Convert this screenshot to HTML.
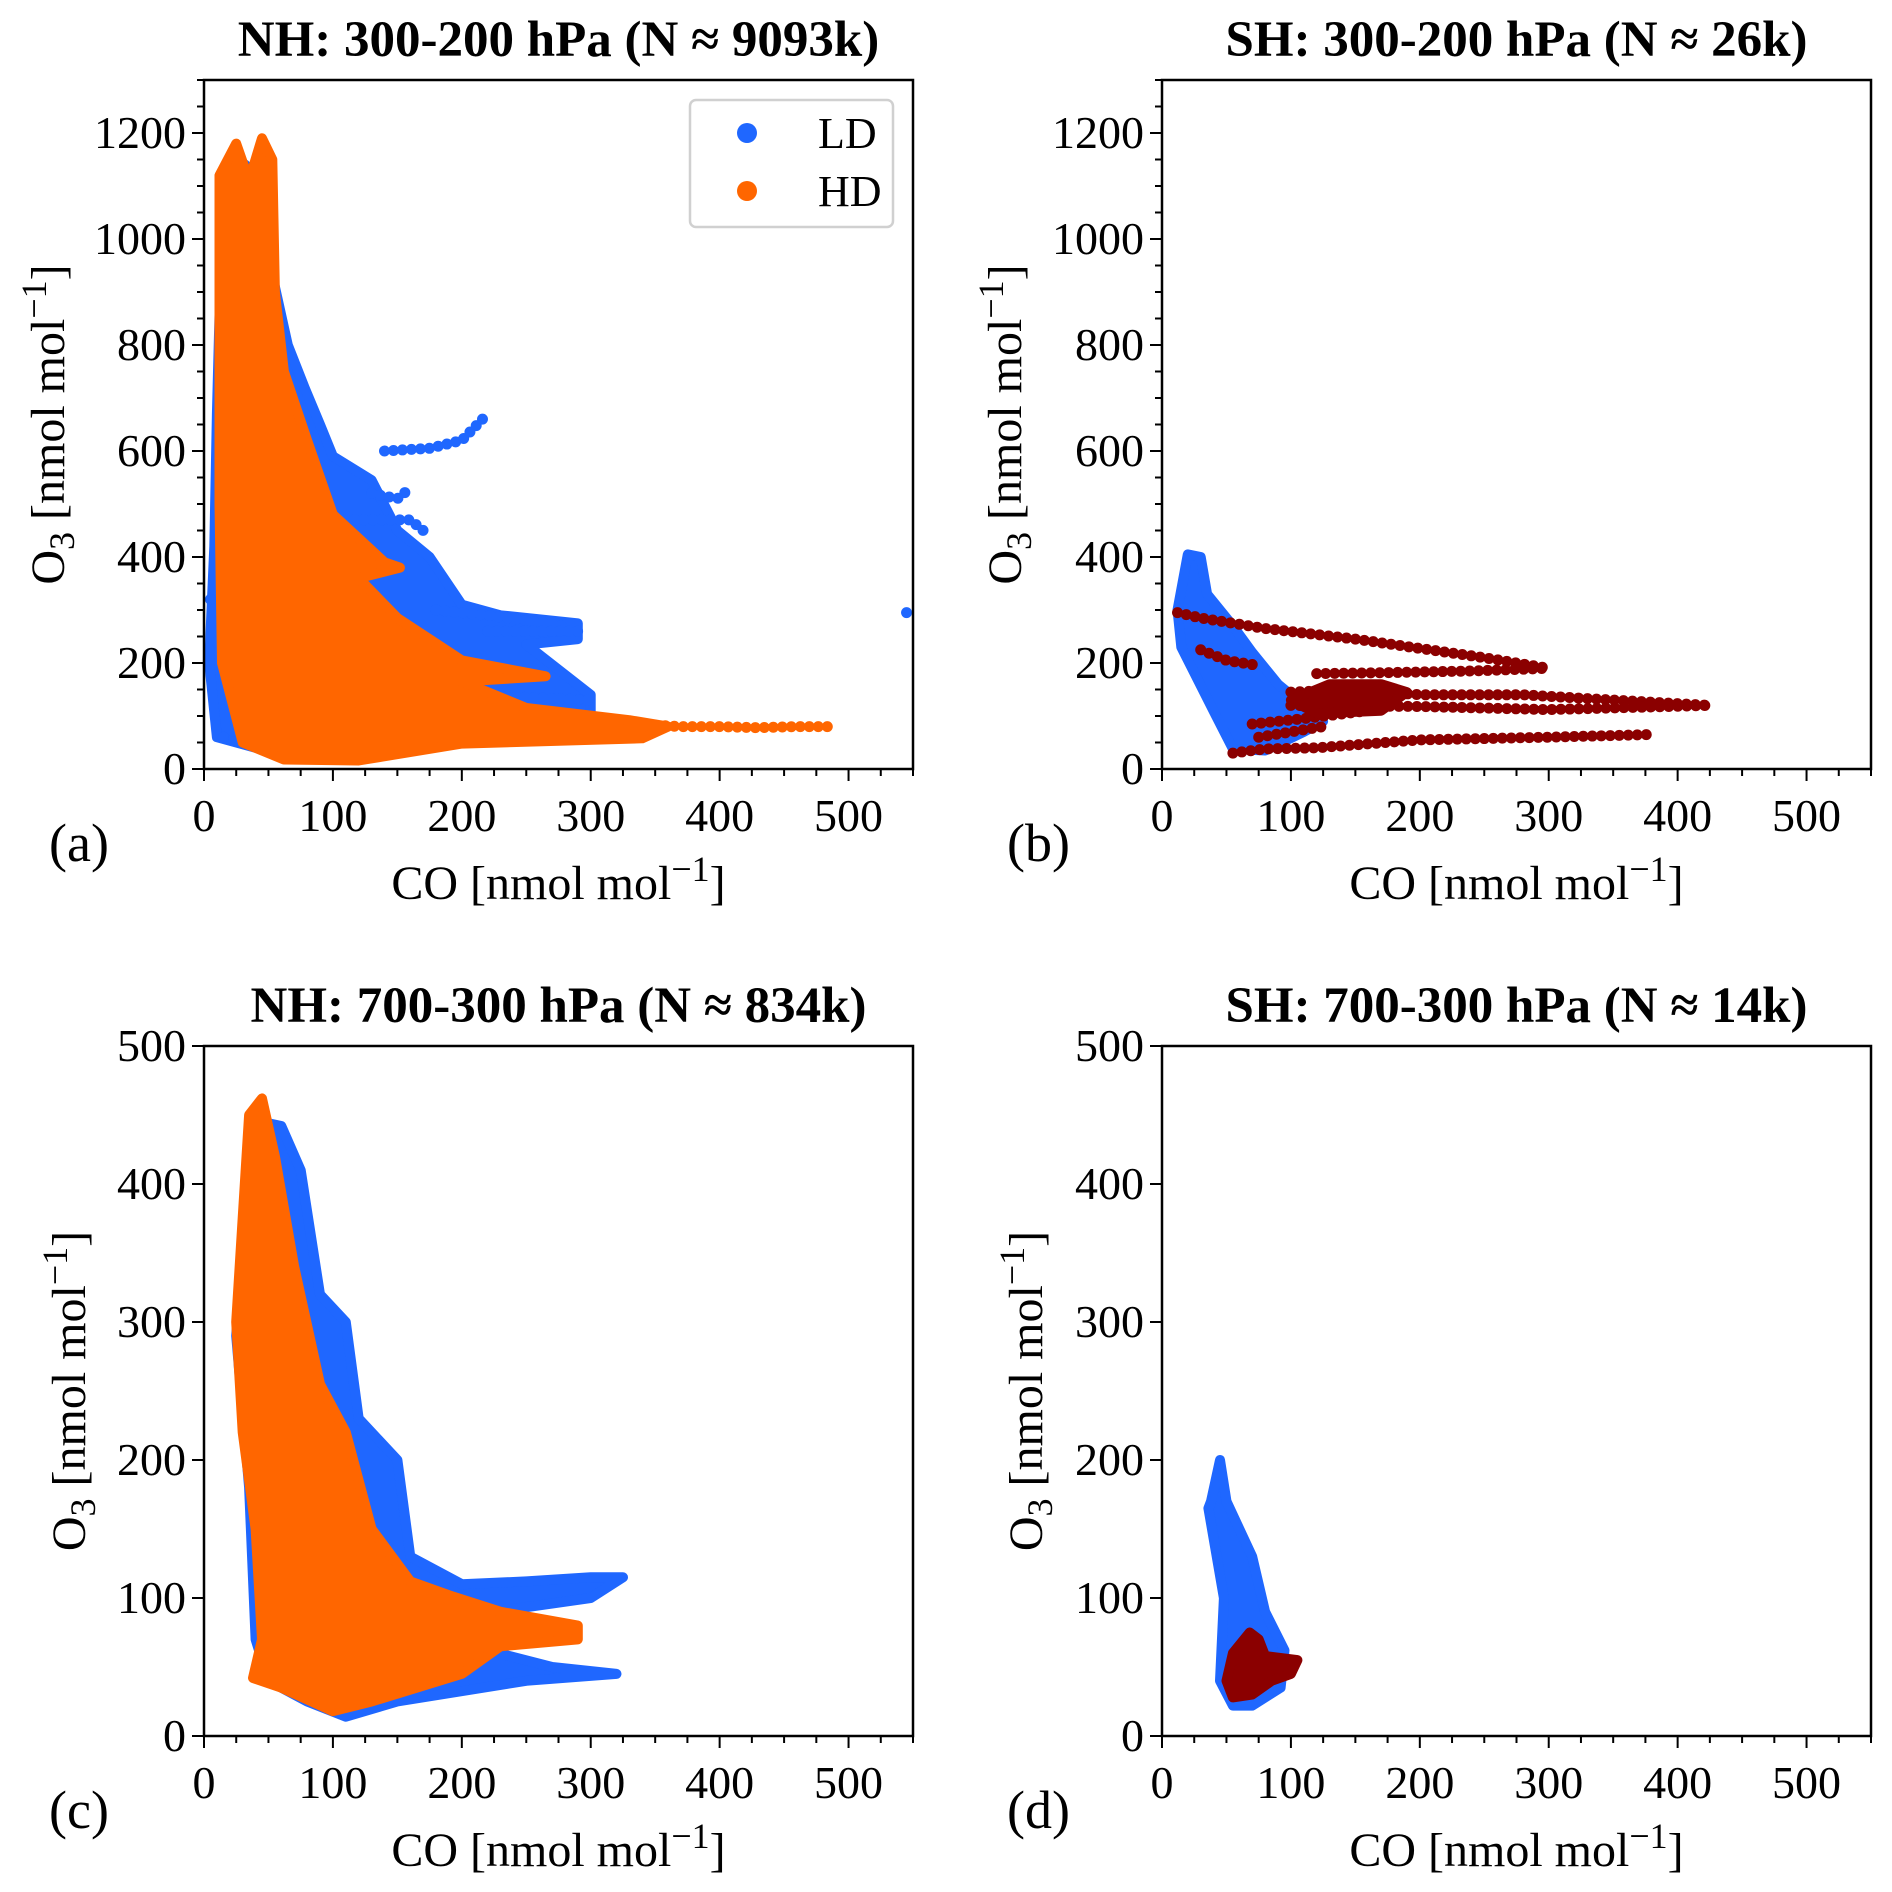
<!DOCTYPE html>
<html><head><meta charset="utf-8"><style>
html,body{margin:0;padding:0;background:#fff}
svg{display:block}
text{font-family:"Liberation Serif",serif;fill:#000}
</style></head><body>
<svg id="fig" width="1892" height="1892" viewBox="0 0 1892 1892" xmlns="http://www.w3.org/2000/svg"></svg>
<script>
// ---- data (CO, O3 in nmol/mol) ----
const xTicks = [0,100,200,300,400,500];
const yTicksTop = [0,200,400,600,800,1000,1200];
const yTicksBot = [0,100,200,300,400,500];
// Panel a cloud envelopes
const aLD = [[15,1130],[32,1140],[45,1000],[55,910],[65,800],[78,720],[90,650],[100,590],[130,545],[150,450],[175,400],[200,310],[230,290],[290,275],[290,245],[250,235],[300,140],[300,100],[330,62],[200,50],[110,18],[70,22],[40,40],[10,60],[4,200],[8,420],[10,670]];
const aHD = [[12,1120],[25,1180],[35,1110],[45,1190],[53,1150],[55,900],[62,750],[80,620],[100,480],[140,390],[152,380],[120,360],[150,285],[200,205],[265,175],[200,165],[250,115],[330,92],[360,80],[340,58],[200,48],[120,16],[62,18],[30,50],[14,200],[12,500],[12,900]];
const aLDstreaks = [[[140,600],[175,605],[200,620],[220,670]],[[130,520],[150,510],[160,530]],[[110,470],[160,470],[175,440]],[[180,300],[220,290],[280,270]],[[220,260],[290,260]],[[200,140],[300,130]]];
const aHDtail = [[330,85],[370,80],[400,80],[430,78],[460,80],[490,80]];
const aLDout = [[545,295],[5,320],[10,240],[20,125],[15,60]];
// Panel b
const bLD = [[12,300],[20,405],[30,400],[35,330],[55,270],[70,220],[90,160],[110,120],[125,90],[110,70],[80,35],[55,38],[42,100],[15,230]];
const bHDstreaks = [
 [[12,295],[30,285],[80,265],[150,245],[250,210],[300,190]],
 [[30,225],[50,205],[75,195]],
 [[120,180],[180,182],[240,185],[300,190]],
 [[100,145],[150,150],[200,140],[280,140],[350,130],[425,120]],
 [[100,120],[200,118],[300,112],[425,120]],
 [[70,85],[110,95],[160,110]],
 [[55,30],[80,38],[120,40],[200,55],[300,60],[380,65]],
 [[75,60],[100,70],[130,82]]];
const bHDblob = [[100,130],[130,160],[170,160],[190,145],[170,110],[120,105]];
// Panel c
const cLD = [[25,290],[35,420],[45,445],[60,442],[75,410],[90,320],[110,300],[120,230],[150,200],[160,130],[200,110],[250,112],[300,115],[325,115],[300,100],[240,92],[220,62],[270,50],[320,45],[250,40],[150,25],[110,14],[80,25],[50,40],[40,70],[35,180]];
const cHD = [[25,300],[35,450],[45,462],[55,420],[70,340],[90,255],[110,220],[130,150],[160,112],[190,102],[230,90],[290,80],[290,70],[230,65],[200,45],[130,25],[100,18],[60,35],[38,42],[45,70],[40,150],[30,220]];
// Panel d
const dLD = [[38,170],[45,200],[50,170],[70,130],[80,90],[95,62],[92,35],[70,22],[55,22],[45,40],[48,100],[36,165]];
const dHD = [[50,40],[55,60],[68,75],[75,70],[80,58],[105,55],[100,45],[85,40],[70,30],[55,28]];

const BLUE="#1f67ff", ORANGE="#ff6600", DRED="#8b0000";
const NS="http://www.w3.org/2000/svg";
const svg=document.getElementById('fig');
function mk(tag,attrs,parent){const e=document.createElementNS(NS,tag);for(const k in attrs)e.setAttribute(k,attrs[k]);(parent||svg).appendChild(e);return e;}

const panels=[
 {id:'a',L:204,T:80,W:709,H:689,ymax:1300,yt:yTicksTop,ymin:50,title:'NH: 300-200 hPa (N \u2248 9093k)',ylx:48},
 {id:'b',L:1162,T:80,W:709,H:689,ymax:1300,yt:yTicksTop,ymin:50,title:'SH: 300-200 hPa (N \u2248 26k)',ylx:1005},
 {id:'c',L:204,T:1046,W:709,H:690,ymax:500,yt:yTicksBot,ymin:0,title:'NH: 700-300 hPa (N \u2248 834k)',ylx:69},
 {id:'d',L:1162,T:1046,W:709,H:690,ymax:500,yt:yTicksBot,ymin:0,title:'SH: 700-300 hPa (N \u2248 14k)',ylx:1026}];

panels.forEach(p=>{
 p.x=v=>p.L+v/550*p.W; p.y=v=>p.T+p.H-v/p.ymax*p.H;
 const g=mk('g',{});
 
 
 p.g=g;
});
function poly(p,pts,color,name){const e=mk('polygon',{points:pts.map(q=>p.x(q[0]).toFixed(1)+','+p.y(q[1]).toFixed(1)).join(' '),fill:color,stroke:color,'stroke-width':10,'stroke-linejoin':'round'},p.g);
 
 }
function line(p,pts,color,name){const e=mk('polyline',{points:pts.map(q=>p.x(q[0]).toFixed(1)+','+p.y(q[1]).toFixed(1)).join(' '),fill:'none',stroke:color,'stroke-width':11,'stroke-linecap':'round','stroke-linejoin':'round','stroke-dasharray':'0 9'},p.g);
 
 }
function dots(p,pts,color,name){pts.forEach(q=>{const e=mk('circle',{cx:p.x(q[0]),cy:p.y(q[1]),r:5.5,fill:color},p.g);
 
 });}

const [A,B,C,D]=panels;
poly(A,aLD,BLUE,'ld-cloud');
aLDstreaks.forEach(s=>line(A,s,BLUE,'ld-streak'));
dots(A,aLDout,BLUE,'ld-point');
poly(A,aHD,ORANGE,'hd-cloud');
line(A,aHDtail,ORANGE,'hd-tail');
poly(B,bLD,BLUE,'ld-cloud');
bHDstreaks.forEach(s=>line(B,s,DRED,'hd-streak'));
poly(B,bHDblob,DRED,'hd-cloud');
poly(C,cLD,BLUE,'ld-cloud');
poly(C,cHD,ORANGE,'hd-cloud');
poly(D,dLD,BLUE,'ld-cloud');
poly(D,dHD,DRED,'hd-cloud');

panels.forEach(p=>{
 const g=p.g;
 const fr=mk('rect',{x:p.L,y:p.T,width:p.W,height:p.H,fill:'none',stroke:'#000','stroke-width':2.5},g);
 
 
 for(let v=0;v<=550;v+=25){const X=p.x(v);const maj=v%100===0;mk('line',{x1:X,x2:X,y1:p.T+p.H,y2:p.T+p.H+(maj?12:7),stroke:'#000','stroke-width':2},g);}
 xTicks.forEach(v=>{const t=mk('text',{x:p.x(v),y:p.T+p.H+62,'font-size':46,'text-anchor':'middle'},g);t.textContent=v;
  
  });
 if(p.ymin){for(let v=0;v<=p.ymax;v+=p.ymin){const Y=p.y(v);mk('line',{x1:p.L,x2:p.L-((v%200===0)?12:7),y1:Y,y2:Y,stroke:'#000','stroke-width':2},g);}}
 else{p.yt.forEach(v=>{const Y=p.y(v);mk('line',{x1:p.L,x2:p.L-12,y1:Y,y2:Y,stroke:'#000','stroke-width':2},g);});}
 p.yt.forEach(v=>{const t=mk('text',{x:p.L-18,y:p.y(v)+15,'font-size':46,'text-anchor':'end'},g);t.textContent=v;
  
  });
 const ti=mk('text',{x:p.L+p.W/2,y:p.T-24,'font-size':51,'font-weight':'bold','text-anchor':'middle'},g);ti.textContent=p.title;
 
 
 const xl=mk('text',{x:p.L+p.W/2,y:p.T+p.H+130,'font-size':48,'text-anchor':'middle'},g);
 xl.innerHTML='CO [nmol mol<tspan dy="-18" font-size="36">\u22121</tspan><tspan dy="18">]</tspan>';
 
 
 const cy=p.T+p.H/2;
 const yl=mk('text',{x:0,y:0,'font-size':48,'text-anchor':'middle',transform:`translate(${p.ylx+16},${cy}) rotate(-90)`},g);
 yl.innerHTML='O<tspan dy="10" font-size="36">3</tspan><tspan dy="-10"> [nmol mol</tspan><tspan dy="-18" font-size="36">\u22121</tspan><tspan dy="18">]</tspan>';
 
 
 const pl=mk('text',{x:p.L-155,y:p.T+p.H+92,'font-size':54},g);pl.textContent='('+p.id+')';
 
 
});

// legend in panel a
const lg=mk('g',{});


mk('rect',{x:690,y:100,width:203,height:127,rx:6,fill:'#fff',stroke:'#d0d0d0','stroke-width':2.5},lg);
[['LD',BLUE,133],['HD',ORANGE,191]].forEach(e=>{
 const c=mk('circle',{cx:747,cy:e[2],r:10,fill:e[1]},lg);
 
 
 const t=mk('text',{x:818,y:e[2]+15,'font-size':44},lg);t.textContent=e[0];
 
 
});
</script>
</body></html>
